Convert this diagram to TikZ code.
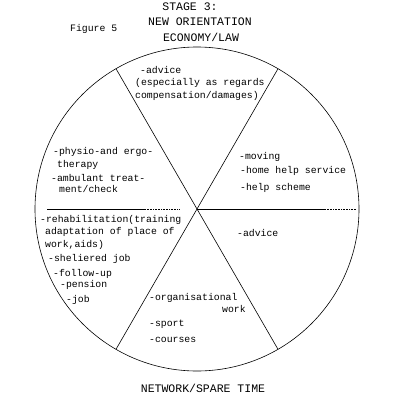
\documentclass[tikz,border=0pt]{standalone}
\usepackage{fontspec}
\setmonofont{Liberation Mono}
\begin{document}
\begin{tikzpicture}[x=1pt,y=-1pt,
  txt/.style={anchor=west,inner sep=0pt,text height=7pt,text depth=0pt,font=\ttfamily\fontsize{9.8}{11}\selectfont},
  ttl/.style={anchor=center,inner sep=0pt,font=\ttfamily\fontsize{11.5}{13}\selectfont},
  ln/.style={line width=0.6pt}]
\useasboundingbox (0,0) rectangle (402,402);
\coordinate (c) at (197,209);
\draw[ln] (c) circle[radius=162];
\path (c) ++(-81,-140.3) coordinate (tl);
\path (c) ++(81,140.3) coordinate (br);
\path (c) ++(81,-140.3) coordinate (tr);
\path (c) ++(-81,140.3) coordinate (bl);
\draw[ln] (tl) -- (br);
\draw[ln] (tr) -- (bl);
\coordinate (h1) at (47,209);
\coordinate (h2) at (145,209);
\coordinate (h3) at (180,209);
\coordinate (h4) at (325,209);
\coordinate (h5) at (356,209);
\draw[ln] (h1) -- (h2);
\draw[ln,densely dotted] (h2) -- (h3);
\draw[ln] (c) -- (h4);
\draw[ln,densely dotted] (h4) -- (h5);
% titles
\node[ttl] (t1) at (190,7) {STAGE 3:};
\node[ttl] (t2) at (200,22) {NEW ORIENTATION};
\node[ttl] (t3) at (201,37) {ECONOMY/LAW};
\node[txt] (fig) at (70,28) {Figure 5};
\node[ttl] (bot) at (203,388) {NETWORK/SPARE TIME};
% top sector
\node[txt] (a1) at (140,70) {-advice};
\node[txt] (a2) at (135,82) {(especially as regards};
\node[txt] (a3) at (135,95) {compensation/damages)};
% left upper
\node[txt] (p1) at (53,151) {-physio-and ergo-};
\node[txt] (p2) at (57,164) {therapy};
\node[txt] (p3) at (51,178) {-ambulant treat-};
\node[txt] (p4) at (59,189) {ment/check};
% left lower
\node[txt] (r1) at (40,219) {-rehabilitation(training};
\node[txt] (r2) at (45,231) {adaptation of place of};
\node[txt] (r3) at (45,244) {work,aids)};
\node[txt] (r4) at (48,258) {-sheliered job};
\node[txt] (r5) at (53,273) {-follow-up};
\node[txt] (r6) at (60,284) {-pension};
\node[txt] (r7) at (66,299) {-job};
% right upper
\node[txt] (m1) at (239,156) {-moving};
\node[txt] (m2) at (240,170) {-home help service};
\node[txt] (m3) at (240,187) {-help scheme};
% right lower
\node[txt] (ad) at (237,233) {-advice};
% bottom
\node[txt] (o1) at (149,297) {-organisational};
\node[txt] (o2) at (222,309) {work};
\node[txt] (o3) at (149,323) {-sport};
\node[txt] (o4) at (149,339) {-courses};
\end{tikzpicture}
\end{document}
